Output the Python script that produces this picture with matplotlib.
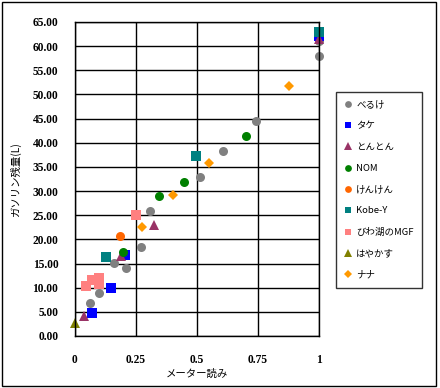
import numpy as np
import matplotlib
matplotlib.use("Agg")
import matplotlib.pyplot as plt
from matplotlib.patches import Rectangle

plt.rcParams['font.family'] = ['Noto Sans CJK JP', 'DejaVu Sans']

# series data (meter reading, remaining litres)
berukex = [0.06, 0.097, 0.161, 0.21, 0.272, 0.309, 0.511, 0.608, 0.741, 1.0, 1.0]
berukey = [6.9, 9.0, 15.1, 14.0, 18.4, 25.8, 33.0, 38.2, 44.6, 57.9, 61.0]
takex = [0.071, 0.149, 0.205, 1.0]
takey = [4.8, 10.0, 16.8, 62.0]
tontonx = [0.036, 0.187, 0.324, 1.0]
tontony = [4.1, 16.6, 23.0, 61.5]
nomx = [0.197, 0.346, 0.448, 0.70]
nomy = [17.3, 28.9, 31.8, 41.5]
kenkenx = [0.186]
kenkeny = [20.6]
kobex = [0.125, 0.497, 1.0]
kobey = [16.4, 37.2, 63.0]
biwax = [0.047, 0.071, 0.097, 0.097, 0.249]
biway = [10.4, 11.6, 12.0, 10.8, 25.1]
hayax = [0.0]
hayay = [2.7]
nanax = [0.273, 0.402, 0.549, 0.877]
nanay = [22.5, 29.2, 35.8, 51.8]

names = ['べるけ', 'タケ', 'とんとん', 'NOM', 'けんけん', 'Kobe-Y', 'びわ湖のMGF', 'はやかす', 'ナナ']
xs = [berukex, takex, tontonx, nomx, kenkenx, kobex, biwax, hayax, nanax]
ys = [berukey, takey, tontony, nomy, kenkeny, kobey, biway, hayay, nanay]
colors = ['#808080', '#0000FF', '#993366', '#008000', '#FF6600', '#008080', '#FF8080', '#808000', '#FF9900']
markers = ['o', 's', '^', 'o', 'o', 's', 's', '^', 'D']
sizes = [6.5, 6.5, 7, 6.5, 6.5, 6.5, 6.5, 7, 5]

xticks = [0, 0.25, 0.5, 0.75, 1]
xticklabels = ['0', '0.25', '0.5', '0.75', '1']
yticks = np.arange(0, 66, 5)

fig = plt.figure(figsize=(4.4, 3.88), dpi=100)
ax = fig.add_axes([75/440, 52/388, 244/440, 314/388])

for x, y, c, m, s, n in zip(xs, ys, colors, markers, sizes, names):
    ax.plot(x, y, linestyle='none', marker=m, color=c, markersize=s,
            markeredgewidth=0, label=n, clip_on=False)

ax.set_xlim(0, 1)
ax.set_ylim(0, 65)
ax.set_xticks(xticks)
ax.set_xticklabels(xticklabels)
ax.set_yticks(yticks)
ax.set_yticklabels(['%.2f' % v for v in yticks])
ax.grid(True, color='black', linewidth=1)
ax.set_axisbelow(True)
for sp in ax.spines.values():
    sp.set_color('black')
    sp.set_linewidth(1)
ax.tick_params(length=0)
ax.tick_params(axis='y', pad=12)
ax.tick_params(axis='x', pad=13)
for lab in ax.get_xticklabels() + ax.get_yticklabels():
    lab.set_fontfamily('Liberation Serif')
    lab.set_fontweight('bold')
    lab.set_fontsize(8.3)

ax.set_xlabel('メーター読み', fontsize=7.5, labelpad=2)
fig.text(15/440, 1 - 180/388, 'ガソリン残量(L)', rotation=90, fontsize=7.5,
         ha='center', va='center')

leg = fig.legend(loc='upper left', bbox_to_anchor=(336/440, 1 - 92/388),
                 frameon=True, fancybox=False, fontsize=6.8, labelspacing=1.3,
                 handlelength=0.8, handletextpad=0.5, borderpad=0.85,
                 borderaxespad=0, markerscale=0.75)
leg.get_frame().set_edgecolor('black')
leg.get_frame().set_linewidth(1)

fig.patches.append(Rectangle((0.004, 0.005), 0.988, 0.99, transform=fig.transFigure,
                             fill=False, edgecolor='black', linewidth=1))

fig.savefig('out.png', dpi=100)
